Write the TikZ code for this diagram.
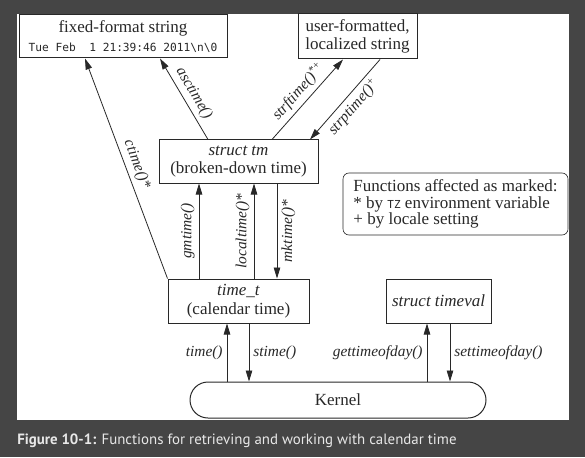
\documentclass[tikz,border=0pt]{standalone}
\usepackage{fontspec}
\setmainfont{Liberation Serif}
\setmonofont{DejaVu Sans Mono}
\newfontfamily\capfont{PT Sans}
\usetikzlibrary{positioning, arrows.meta}

\definecolor{bgframe}{RGB}{69,69,69}
\definecolor{captext}{RGB}{232,232,232}
\definecolor{ink}{RGB}{40,40,40}

\tikzset{
    box/.style={draw, line width=1pt, align=center, inner sep=2pt,
        font=\fontsize{17}{18.5}\selectfont},
    fn/.style={font=\fontsize{15.4}{17}\selectfont\itshape, inner sep=4pt},
    >={Triangle[length=11pt, width=6.5pt]},
}

\begin{document}
\begin{tikzpicture}[x=1pt, y=1pt, on grid, line width=0.8pt, color=ink]
    \fill[bgframe] (0,0) rectangle (585,-457);
    \fill[white] (17,-14) rectangle (569,-420);
    \node[anchor=base west, inner sep=0, text=captext,
        font=\capfont\fontsize{14.9}{16}\selectfont] (caption) at (17,-444)
        {\textbf{Figure 10-1:} Functions for retrieving and working with calendar time};

    \node[box, minimum width=208pt, minimum height=43pt] (fixed) at (123,-36.5)
        {fixed-format string\\
         {\ttfamily\fontsize{11.2}{14}\selectfont Tue Feb~~1 21:39:46 2011\textbackslash n\textbackslash 0}};
    \node[box, minimum width=119pt, minimum height=45pt, right=234.5pt of fixed] (user)
        {user-formatted,\\ localized string};
    \node[box, minimum width=159pt, minimum height=43pt, below right=125pt and 115.5pt of fixed] (tm)
        {\textit{struct tm}\\ (broken-down time)};
    \node[draw, line width=0.6pt, rounded corners=6pt, align=left, minimum width=225pt,
        minimum height=62pt, font=\fontsize{17}{16.5}\selectfont,
        below right=42.5pt and 217pt of tm] (legend)
        {Functions affected as marked:\\
         * by {\ttfamily\fontsize{11}{14}\selectfont TZ} environment variable\\
         + by locale setting};
    \node[box, minimum width=141pt, minimum height=44pt, below=139.5pt of tm] (timet)
        {\textit{time\_t}\\ (calendar time)};
    \node[box, minimum width=105pt, minimum height=44pt, right=200pt of timet] (timeval)
        {\textit{struct timeval}};
    \node[box, rounded corners=18pt, minimum width=296pt, minimum height=36pt,
        below right=99pt and 99.5pt of timet] (kernel) {Kernel};

    % conversions to and from strings
    \draw[->] (timet.north west) -- node[fn, sloped, above] {ctime()*} ([xshift=-38pt]fixed.south);
    \draw[->] ([xshift=-30.5pt]tm.north) -- node[fn, sloped, above] {asctime()} ([xshift=37pt]fixed.south);
    \draw[->] ([xshift=33.5pt]tm.north) -- node[fn, sloped, above] {strftime()\textsuperscript{*+}} ([xshift=-14.5pt]user.south);
    \draw[->] ([xshift=22.5pt]user.south) -- node[fn, sloped, below] {strptime()\textsuperscript{+}} ([xshift=71.5pt]tm.north);

    % time_t <-> struct tm
    \draw[->] ([xshift=-39.5pt]timet.north) -- node[fn, sloped, above] {gmtime()} ([xshift=-39.5pt]tm.south);
    \draw[->] ([xshift=15.5pt]timet.north) -- node[fn, sloped, above] {localtime()*} ([xshift=15.5pt]tm.south);
    \draw[<-] ([xshift=38.5pt]timet.north) -- node[fn, sloped, below] {mktime()*} ([xshift=38.5pt]tm.south);

    % system calls
    \draw[->] ([xshift=-11.5pt]timet.south |- kernel.north) -- node[fn, left] {time()} ([xshift=-11.5pt]timet.south);
    \draw[->] ([xshift=10.5pt]timet.south) -- node[fn, right] {stime()} ([xshift=10.5pt]timet.south |- kernel.north);
    \draw[->] ([xshift=-11.5pt]timeval.south |- kernel.north) -- node[fn, left] {gettimeofday()} ([xshift=-11.5pt]timeval.south);
    \draw[->] ([xshift=11.5pt]timeval.south) -- node[fn, right] {settimeofday()} ([xshift=11.5pt]timeval.south |- kernel.north);
\end{tikzpicture}
\end{document}
